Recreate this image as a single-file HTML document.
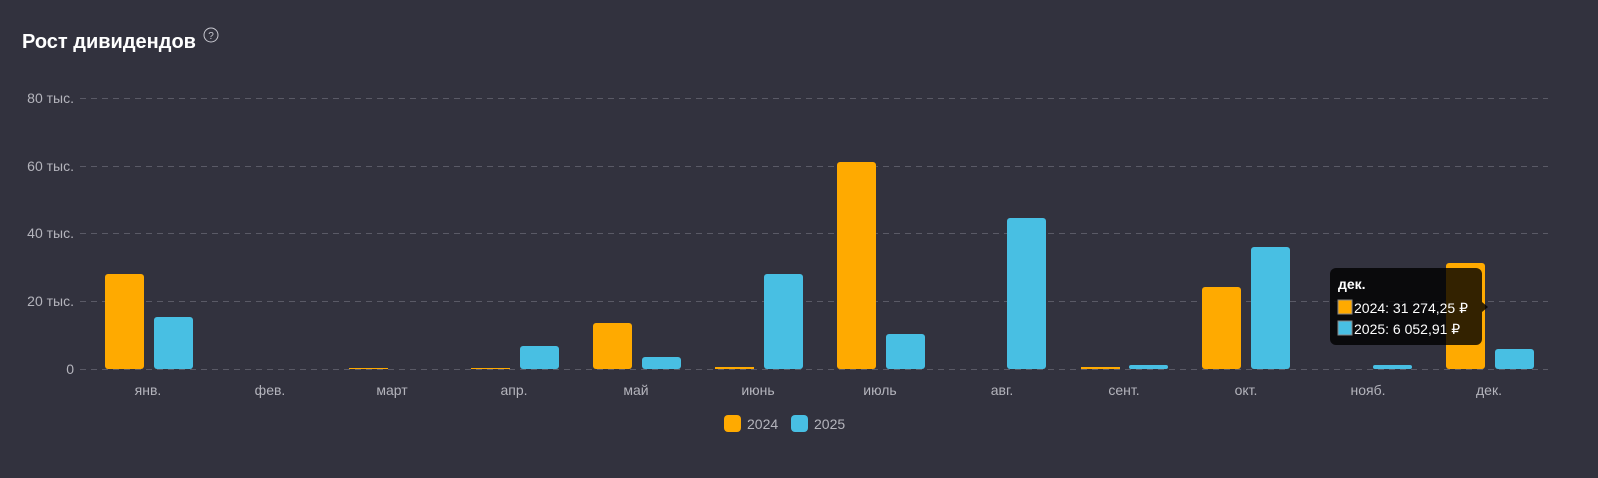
<!DOCTYPE html>
<html><head><meta charset="utf-8"><style>
body{margin:0;background:#32323e;width:1598px;height:473px;overflow:hidden;font-family:"Liberation Sans",sans-serif}
</style></head><body>
<svg width="1598" height="473" xmlns="http://www.w3.org/2000/svg" font-family="Liberation Sans, sans-serif">
<rect width="1598" height="473" fill="#32323e"/>
<text x="22" y="48" font-size="20" font-weight="bold" fill="#ffffff">Рост дивидендов</text>
<circle cx="211" cy="35" r="7" fill="none" stroke="#c8c8d0" stroke-width="1"/>
<text x="211" y="39" font-size="10" fill="#c8c8d0" text-anchor="middle">?</text>
<g stroke="#5a5a66" stroke-dasharray="6,5" stroke-width="1">
<line x1="80" y1="98.5" x2="1548" y2="98.5"/>
<line x1="80" y1="166.5" x2="1548" y2="166.5"/>
<line x1="80" y1="233.5" x2="1548" y2="233.5"/>
<line x1="80" y1="301.5" x2="1548" y2="301.5"/>
<line x1="80" y1="369.5" x2="1548" y2="369.5"/>
</g>
<g font-size="14" fill="#b4b4bc" text-anchor="end">
<text x="74" y="103">80 тыс.</text>
<text x="74" y="171">60 тыс.</text>
<text x="74" y="238">40 тыс.</text>
<text x="74" y="306">20 тыс.</text>
<text x="74" y="374">0</text>
</g>
<g font-size="14" fill="#b4b4bc" text-anchor="middle">
<text x="148" y="395">янв.</text><text x="270" y="395">фев.</text><text x="392" y="395">март</text>
<text x="514" y="395">апр.</text><text x="636" y="395">май</text><text x="758" y="395">июнь</text>
<text x="880" y="395">июль</text><text x="1002" y="395">авг.</text><text x="1124" y="395">сент.</text>
<text x="1246" y="395">окт.</text><text x="1368" y="395">нояб.</text><text x="1489" y="395">дек.</text>
</g>
<g fill="#ffaa00">
<rect x="105" y="274" width="39" height="95" rx="3"/>
<rect x="349" y="368" width="39" height="1"/>
<rect x="471" y="368" width="39" height="1"/>
<rect x="593" y="323" width="39" height="46" rx="3"/>
<rect x="715" y="367" width="39" height="2"/>
<rect x="837" y="162" width="39" height="207" rx="3"/>
<rect x="1081" y="367" width="39" height="2"/>
<rect x="1202" y="287" width="39" height="82" rx="3"/>
<rect x="1446" y="263" width="39" height="106" rx="3"/>
</g>
<g fill="#48bfe3">
<rect x="154" y="317" width="39" height="52" rx="3"/>
<rect x="520" y="346" width="39" height="23" rx="3"/>
<rect x="642" y="357" width="39" height="12" rx="3"/>
<rect x="764" y="274" width="39" height="95" rx="3"/>
<rect x="886" y="334" width="39" height="35" rx="3"/>
<rect x="1007" y="218" width="39" height="151" rx="3"/>
<rect x="1129" y="365" width="39" height="4" rx="2"/>
<rect x="1251" y="247" width="39" height="122" rx="3"/>
<rect x="1373" y="365" width="39" height="4" rx="2"/>
<rect x="1495" y="349" width="39" height="20" rx="3"/>
</g>
<rect x="1330" y="268" width="152" height="77" rx="6" fill="#000" fill-opacity="0.8"/>
<polygon points="1482,302 1488,307 1482,312" fill="#000" fill-opacity="0.8"/>
<text x="1338" y="289" font-size="14" font-weight="bold" fill="#fff">дек.</text>
<rect x="1338" y="300" width="14" height="14" fill="#ffaa00" stroke="#888" stroke-width="1"/>
<text x="1354" y="313" font-size="14" fill="#fff">2024: 31 274,25 ₽</text>
<rect x="1338" y="321" width="14" height="14" fill="#48bfe3" stroke="#888" stroke-width="1"/>
<text x="1354" y="334" font-size="14" fill="#fff">2025: 6 052,91 ₽</text>
<rect x="724" y="415" width="17" height="17" rx="4" fill="#ffaa00"/>
<text x="747" y="429" font-size="14" fill="#b4b4bc">2024</text>
<rect x="791" y="415" width="17" height="17" rx="4" fill="#48bfe3"/>
<text x="814" y="429" font-size="14" fill="#b4b4bc">2025</text>
</svg>
</body></html>
